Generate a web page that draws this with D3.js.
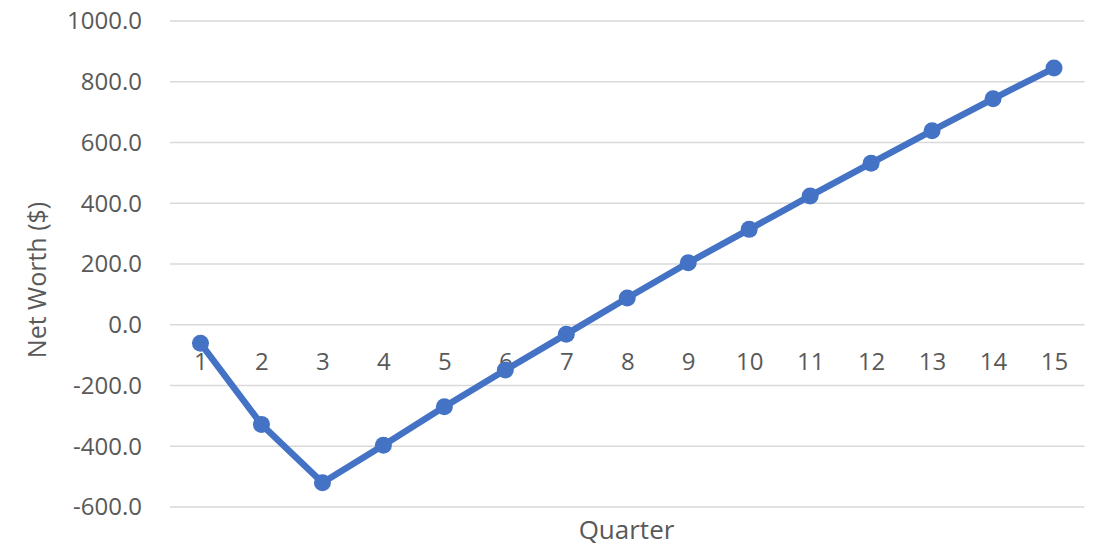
<!DOCTYPE html>
<html>
<head>
<meta charset="utf-8">
<script src="https://cdn.jsdelivr.net/npm/d3@7"></script>
<style>
  body { margin: 0; background: #fff; }
  svg { display: block; }
  text { font-family: "Open Sans", sans-serif; fill: #595959; }
</style>
</head>
<body>
<svg id="chart" width="1102" height="548"></svg>
<script>
const quarters = ["1","2","3","4","5","6","7","8","9","10","11","12","13","14","15"];
const netWorth = [-61, -328, -520, -397, -270, -149, -31, 88, 204, 314, 424, 532, 639, 744, 845];
const yTicks = [-600, -400, -200, 0, 200, 400, 600, 800, 1000];
const xTitle = "Quarter";
const yTitle = "Net Worth ($)";

(function () {
const svg = d3.select("#chart");
const mLeft = 170, mRight = 1084.5, mTop = 21, mBottom = 507;

const x = d3.scalePoint().domain(quarters).range([mLeft, mRight]).padding(0.5);
const y = d3.scaleLinear().domain([-600, 1000]).range([mBottom, mTop]);

// gridlines
svg.append("g").selectAll("line").data(yTicks).join("line")
  .attr("x1", mLeft).attr("x2", mRight)
  .attr("y1", d => y(d)).attr("y2", d => y(d))
  .attr("stroke", "#d9d9d9").attr("stroke-width", 1.5);

// y axis labels
const fmt = d => d.toFixed(1);
const yAxis = d3.axisLeft(y).tickValues(yTicks).tickFormat(fmt).tickSize(0).tickPadding(28);
const gy = svg.append("g").attr("transform", `translate(${mLeft},0)`).call(yAxis);
gy.select(".domain").remove();
gy.selectAll("text").attr("font-size", 24).attr("font-family", "Open Sans, sans-serif").attr("fill", "#595959").attr("dy", "0.33em");

// x axis labels (at zero line)
const xAxis = d3.axisBottom(x).tickSize(0).tickPadding(28);
const gx = svg.append("g").attr("transform", `translate(0,${y(0)})`).call(xAxis);
gx.select(".domain").remove();
gx.selectAll("text").attr("font-size", 24).attr("font-family", "Open Sans, sans-serif").attr("fill", "#595959");

// line
const data = quarters.map((q, i) => ({ q, v: netWorth[i] }));
svg.append("path").datum(data)
  .attr("fill", "none").attr("stroke", "#4472C4").attr("stroke-width", 6.5)
  .attr("stroke-linejoin", "round")
  .attr("d", d3.line().x(d => x(d.q)).y(d => y(d.v)));

svg.append("g").selectAll("circle").data(data).join("circle")
  .attr("cx", d => x(d.q)).attr("cy", d => y(d.v)).attr("r", 8.5)
  .attr("fill", "#4472C4");

// titles
svg.append("text").attr("x", 626.5).attr("y", 539).attr("text-anchor", "middle")
  .attr("font-size", 26).text(xTitle);
svg.append("text").attr("transform", "translate(46,280) rotate(-90)").attr("text-anchor", "middle")
  .attr("font-size", 25).text(yTitle);
})();
</script>
</body>
</html>
